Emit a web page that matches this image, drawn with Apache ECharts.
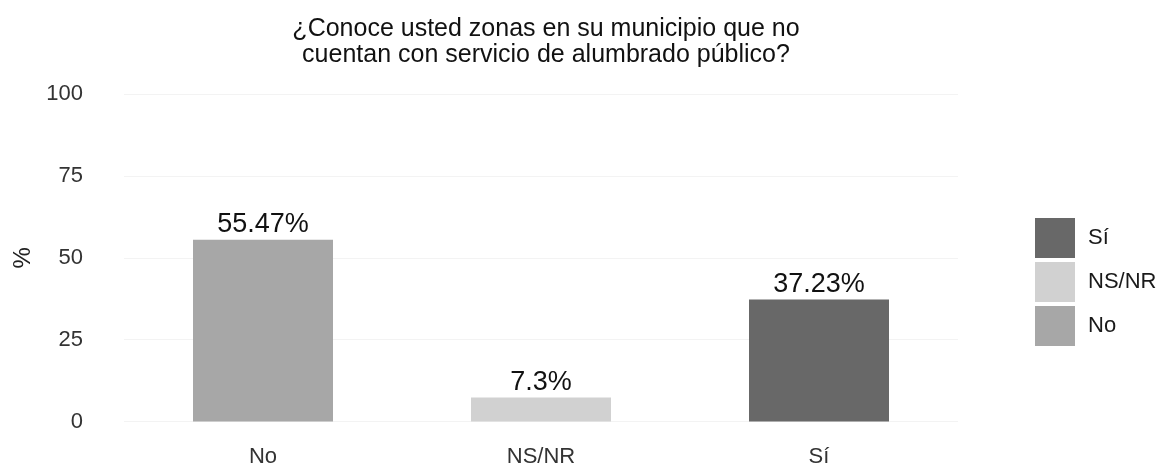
<!DOCTYPE html>
<html>
<head>
<meta charset="utf-8">
<script src="https://cdn.jsdelivr.net/npm/echarts@6/dist/echarts.min.js"></script>
<style>
html, body { margin: 0; padding: 0; background: #fff; }
#chart { width: 1159px; height: 469px; }
</style>
</head>
<body>
<div id="chart"></div>
<script>
const categories = ['No', 'NS/NR', 'Sí'];
const values = [55.47, 7.3, 37.23];
const barColors = ['#a7a7a7', '#d1d1d1', '#686868'];
const legendOrder = ['Sí', 'NS/NR', 'No'];
const yTicks = [0, 25, 50, 75, 100];

const chart = echarts.init(document.getElementById('chart'));

// one series per category so the legend shows each one
const series = categories.map((name, i) => ({
    name: name,
    type: 'bar',
    stack: 'all',
    barWidth: 140,
    itemStyle: { color: barColors[i] },
    label: {
        show: true,
        position: 'top',
        distance: 2,
        color: '#111',
        fontSize: 27,
        formatter: (p) => p.value + '%'
    },
    data: categories.map((c, j) => (j === i ? values[i] : null))
}));

chart.setOption({
    animation: false,
    textStyle: { fontFamily: 'Liberation Sans' },
    title: {
        text: '¿Conoce usted zonas en su municipio que no\ncuentan con servicio de alumbrado público?',
        left: 541,
        top: 11,
        textAlign: 'center',
        textStyle: {
            fontSize: 25,
            fontWeight: 'normal',
            color: '#111',
            lineHeight: 26
        }
    },
    legend: {
        data: legendOrder,
        orient: 'vertical',
        left: 1030,
        top: 213,
        itemWidth: 40,
        itemHeight: 40,
        itemGap: 4,
        icon: 'rect',
        textStyle: { fontSize: 22, color: '#1a1a1a', padding: [0, 0, 0, 8] }
    },
    grid: {
        left: 124,
        right: 201,
        top: 94,
        bottom: 47.5
    },
    xAxis: {
        type: 'category',
        data: categories,
        axisLine: { show: false },
        axisTick: { show: false },
        axisLabel: { color: '#333', fontSize: 22, margin: 24 }
    },
    yAxis: {
        type: 'value',
        min: yTicks[0],
        max: yTicks[yTicks.length - 1],
        interval: 25,
        name: '%',
        nameLocation: 'middle',
        nameGap: 84,
        nameRotate: 90,
        nameTextStyle: { fontSize: 24, color: '#222' },
        axisLine: { show: false },
        axisTick: { show: false },
        axisLabel: { color: '#333', fontSize: 22, margin: 41 },
        splitLine: { lineStyle: { color: '#f3f3f3' } }
    },
    series: series
});
</script>
</body>
</html>
